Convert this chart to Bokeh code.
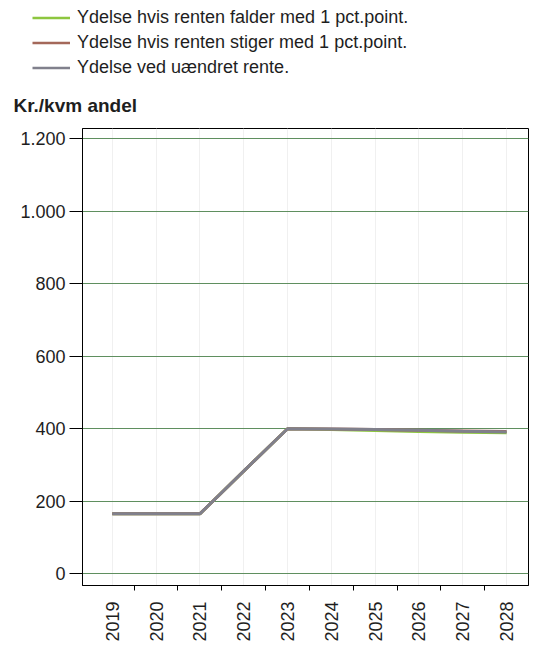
import math
from bokeh.plotting import figure
from bokeh.layouts import column
from bokeh.models import Range1d, FixedTicker, Legend, LegendItem
from bokeh.core.properties import value
from bokeh.embed import file_html
from bokeh.resources import INLINE

# ---- data ----
years = [2019, 2020, 2021, 2022, 2023, 2024, 2025, 2026, 2027, 2028]
ydelse_fald = [165, 165, 165, 283, 400, 398, 395, 392, 390, 389]
ydelse_stig = [165, 165, 165, 283, 400, 399, 398, 396, 394, 392]
ydelse_uaendret = [165, 165, 165, 283, 400, 399, 398, 396, 393, 391]
y_ticks = [0, 200, 400, 600, 800, 1000, 1200]
y_tick_labels = ["0", "200", "400", "600", "800", "1.000", "1.200"]
series_labels = [
    "Ydelse hvis renten falder med 1 pct.point.",
    "Ydelse hvis renten stiger med 1 pct.point.",
    "Ydelse ved uændret rente.",
]
series_colors = ["#8dc63f", "#a4685a", "#80808c"]
y_title = "Kr./kvm andel"

FONT = "Liberation Sans"
TXT = "#1e1e1e"
W = 530
HEAD_H = 120

# ---- header figure: legend + axis title ----
h = figure(
    width=W, height=HEAD_H,
    x_range=Range1d(0, W), y_range=Range1d(HEAD_H, 0),
    output_backend="svg", toolbar_location=None, tools="",
    min_border=0, min_border_left=0, min_border_right=0,
    min_border_top=0, min_border_bottom=0,
)
h.frame_align = False
h.axis.visible = False
h.grid.visible = False
h.outline_line_color = None
h.background_fill_color = "white"
h.border_fill_color = "white"

nan = float("nan")
dummy = [h.line(x=[nan], y=[nan], line_color=c, line_width=2.5) for c in series_colors]
legend = Legend(
    items=[LegendItem(label=lab, renderers=[r]) for lab, r in zip(series_labels, dummy)],
    location=(32, 42),
    orientation="vertical",
    glyph_width=38, glyph_height=21, label_height=21,
    label_standoff=7, spacing=4, padding=0, margin=0,
    border_line_color=None, background_fill_alpha=0,
    label_text_font=FONT, label_text_font_size="18px", label_text_color=TXT,
)
h.add_layout(legend, "center")
h.text(x=[13], y=[105], text=[y_title], text_font=value(FONT),
       text_font_size="19px", text_font_style="bold", text_color=TXT,
       text_baseline="middle", text_align="left")

# ---- chart figure ----
p = figure(
    width=W, height=524,
    x_range=Range1d(years[0] - 0.5 - 8 / 44.6, years[-1] + 0.5),
    y_range=Range1d(-32.8, 1228.7),
    output_backend="svg", toolbar_location=None, tools="",
    min_border_left=82, min_border_right=2, min_border_top=8, min_border_bottom=55,
)
p.frame_align = False
p.background_fill_color = "white"
p.border_fill_color = "white"
p.outline_line_color = "black"
p.outline_line_width = 1

p.ygrid.ticker = FixedTicker(ticks=y_ticks)
p.ygrid.grid_line_color = "#5f8f5f"
p.ygrid.grid_line_width = 1
p.xgrid.ticker = FixedTicker(ticks=years)
p.xgrid.grid_line_color = "#f0f0f0"
p.xgrid.grid_line_width = 1

ya = p.yaxis[0]
ya.ticker = FixedTicker(ticks=y_ticks)
ya.major_label_overrides = {t: l for t, l in zip(y_ticks, y_tick_labels)}
ya.axis_line_color = "black"
ya.major_tick_line_color = "black"
ya.major_tick_out = 13
ya.major_tick_in = 0
ya.minor_tick_line_color = None
ya.major_label_standoff = 4
ya.major_label_text_font = FONT
ya.major_label_text_font_size = "18px"
ya.major_label_text_color = TXT

xa = p.xaxis[0]
xa.ticker = FixedTicker(ticks=years, minor_ticks=[y + 0.5 for y in years[:-1]])
xa.major_label_overrides = {y: str(y) for y in years}
xa.axis_line_color = "black"
xa.major_tick_out = 0
xa.major_tick_in = 0
xa.major_tick_line_color = None
xa.minor_tick_line_color = "black"
xa.minor_tick_out = 5
xa.minor_tick_in = 0
xa.major_label_orientation = math.pi / 2
xa.major_label_standoff = 11
xa.major_label_text_font = FONT
xa.major_label_text_font_size = "18px"
xa.major_label_text_color = TXT

for vals, col in zip([ydelse_fald, ydelse_stig, ydelse_uaendret], series_colors):
    p.line(years, vals, line_color=col, line_width=3)

layout = column(h, p, spacing=0)
open("out.html", "w").write(file_html(layout, INLINE))
